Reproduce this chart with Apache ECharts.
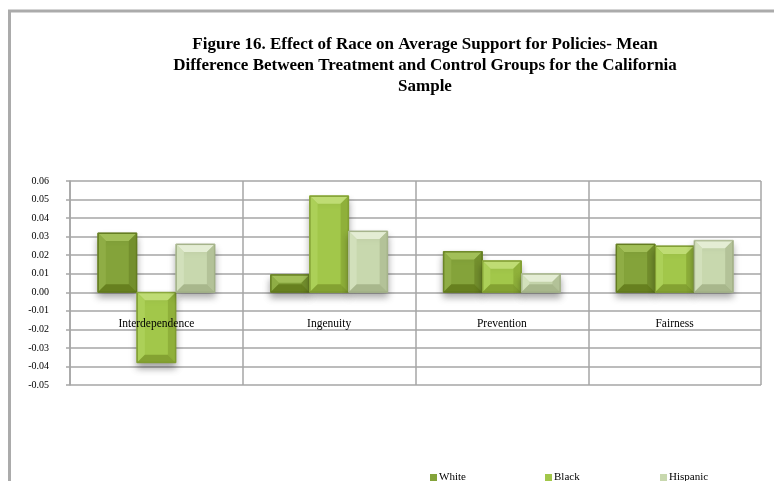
<!DOCTYPE html>
<html>
<head>
<meta charset="utf-8">
<script src="https://cdn.jsdelivr.net/npm/echarts@6/dist/echarts.min.js"></script>
<style>
  html, body { margin: 0; padding: 0; background: #fff; }
  #chart { width: 774px; height: 481px; }
</style>
</head>
<body>
<div id="chart"></div>
<script>
// Mean difference (treatment - control) in average policy support, by race
const categories = ['Interdependence', 'Ingenuity', 'Prevention', 'Fairness'];
const whiteValues = [0.032, 0.0095, 0.022, 0.026];
const blackValues = [-0.038, 0.052, 0.017, 0.025];
const hispanicValues = [0.026, 0.033, 0.010, 0.028];
const seriesNames = ['White', 'Black', 'Hispanic'];
const yMin = -0.05;
const yMax = 0.06;

const FONT = '"Liberation Serif", "Times New Roman", serif';
const GRID = { left: 70, right: 13, top: 181, bottom: 96 };
const plotHeight = 481 - GRID.top - GRID.bottom;
// distance from the bottom edge of the plot up to the zero line
const zeroLift = plotHeight * (0 - yMin) / (yMax - yMin);

// Bevel palettes: face, light edge, side edges, dark edge, outline
const palettes = [
  { face: '#84a33a', top: '#a2bf58', left: '#8fad45', right: '#738f2d', bottom: '#67801f', line: '#61791f' },
  { face: '#a2c74a', top: '#bfdc74', left: '#acd058', right: '#8fb03a', bottom: '#84a232', line: '#7e9a30' },
  { face: '#c8d8ae', top: '#e4edd4', left: '#d2e0bb', right: '#b3c298', bottom: '#a8b78c', line: '#a2b087' }
];

function bevelBar(idx) {
  const p = palettes[idx];
  return function (params, api) {
    const cat = api.value(0);
    const val = api.value(1);
    const band = api.size([1, 0])[0];
    const w = band * 0.226;
    const c = api.coord([cat, val]);
    const z = api.coord([cat, 0]);
    const x0 = c[0] + (idx - 1.5) * w;
    const x1 = x0 + w;
    const yT = Math.min(c[1], z[1]);
    const yB = Math.max(c[1], z[1]);
    const h = yB - yT;
    const b = Math.min(8, h / 2, w / 2);
    return {
      type: 'group',
      children: [
        { type: 'rect', shape: { x: x0, y: yT, width: w, height: h },
          style: { fill: p.face, stroke: p.line, lineWidth: 1,
                   shadowBlur: 7, shadowOffsetY: 5, shadowColor: 'rgba(0,0,0,0.35)' } },
        { type: 'polygon', shape: { points: [[x0, yT], [x1, yT], [x1 - b, yT + b], [x0 + b, yT + b]] },
          style: { fill: p.top } },
        { type: 'polygon', shape: { points: [[x0, yT], [x0 + b, yT + b], [x0 + b, yB - b], [x0, yB]] },
          style: { fill: p.left } },
        { type: 'polygon', shape: { points: [[x1, yT], [x1, yB], [x1 - b, yB - b], [x1 - b, yT + b]] },
          style: { fill: p.right } },
        { type: 'polygon', shape: { points: [[x0, yB], [x0 + b, yB - b], [x1 - b, yB - b], [x1, yB]] },
          style: { fill: p.bottom } },
        { type: 'rect', shape: { x: x0 + 0.5, y: yT + 0.5, width: w - 1, height: h - 1 },
          style: { fill: 'none', stroke: p.line, lineWidth: 1 } }
      ]
    };
  };
}

const valueSets = [whiteValues, blackValues, hispanicValues];
const series = seriesNames.map((name, i) => ({
  name: name,
  type: 'custom',
  xAxisIndex: 0,
  itemStyle: { color: palettes[i].face },
  renderItem: bevelBar(i),
  encode: { x: 0, y: 1 },
  data: categories.map((c, k) => [k, valueSets[i][k]]),
  z: 3
}));

const legendLefts = [425, 540, 655];
const legends = seriesNames.map((name, i) => ({
  data: [name],
  left: legendLefts[i],
  top: 467,
  icon: 'rect',
  itemWidth: 7,
  itemHeight: 7,
  itemGap: 2,
  textStyle: { fontFamily: FONT, fontSize: 11, color: '#000', padding: [0, 0, 0, -3] }
}));

const chart = echarts.init(document.getElementById('chart'), null, { renderer: 'canvas' });
chart.setOption({
  animation: false,
  backgroundColor: '#ffffff',
  title: {
    text: 'Figure 16. Effect of Race on Average Support for Policies- Mean\nDifference Between Treatment and Control Groups for the California\nSample',
    left: 420,
    top: 29,
    textAlign: 'center',
    textStyle: { fontFamily: FONT, fontSize: 17, fontWeight: 'bold', color: '#000', lineHeight: 21 }
  },
  legend: legends,
  grid: Object.assign({ containLabel: false }, GRID),
  xAxis: [
    {
      // category dividers, drawn beneath the bars
      type: 'category',
      data: categories,
      boundaryGap: true,
      position: 'bottom',
      axisLine: { show: false, onZero: false },
      axisTick: { show: false },
      axisLabel: { show: false },
      splitLine: { show: true, interval: 0, lineStyle: { color: '#a6a6a6', width: 1.5 } },
      z: 0
    },
    {
      // category names sit just under the zero line, over the bars
      type: 'category',
      data: categories,
      boundaryGap: true,
      position: 'bottom',
      offset: -zeroLift,
      axisLine: { show: false, onZero: false },
      axisTick: { show: false },
      axisLabel: { fontFamily: FONT, fontSize: 11.5, color: '#000', margin: 26, interval: 0 },
      splitLine: { show: false },
      z: 10
    }
  ],
  yAxis: {
    type: 'value',
    min: yMin,
    max: yMax,
    interval: 0.01,
    axisLine: { show: true, lineStyle: { color: '#a6a6a6', width: 1.5 } },
    axisTick: { show: true, inside: false, length: 4, lineStyle: { color: '#a6a6a6', width: 1.5 } },
    axisLabel: {
      fontFamily: FONT, fontSize: 10, color: '#000', margin: 21,
      formatter: v => (Math.round(v * 100) / 100).toFixed(2)
    },
    splitLine: { show: true, lineStyle: { color: '#a6a6a6', width: 1.5 } }
  },
  series: series,
  graphic: [
    { type: 'line', shape: { x1: 8, y1: 11, x2: 774, y2: 11 }, style: { stroke: '#ababab', lineWidth: 3 }, z: 10 },
    { type: 'line', shape: { x1: 9.5, y1: 10, x2: 9.5, y2: 481 }, style: { stroke: '#ababab', lineWidth: 3 }, z: 10 }
  ]
});
</script>
</body>
</html>
